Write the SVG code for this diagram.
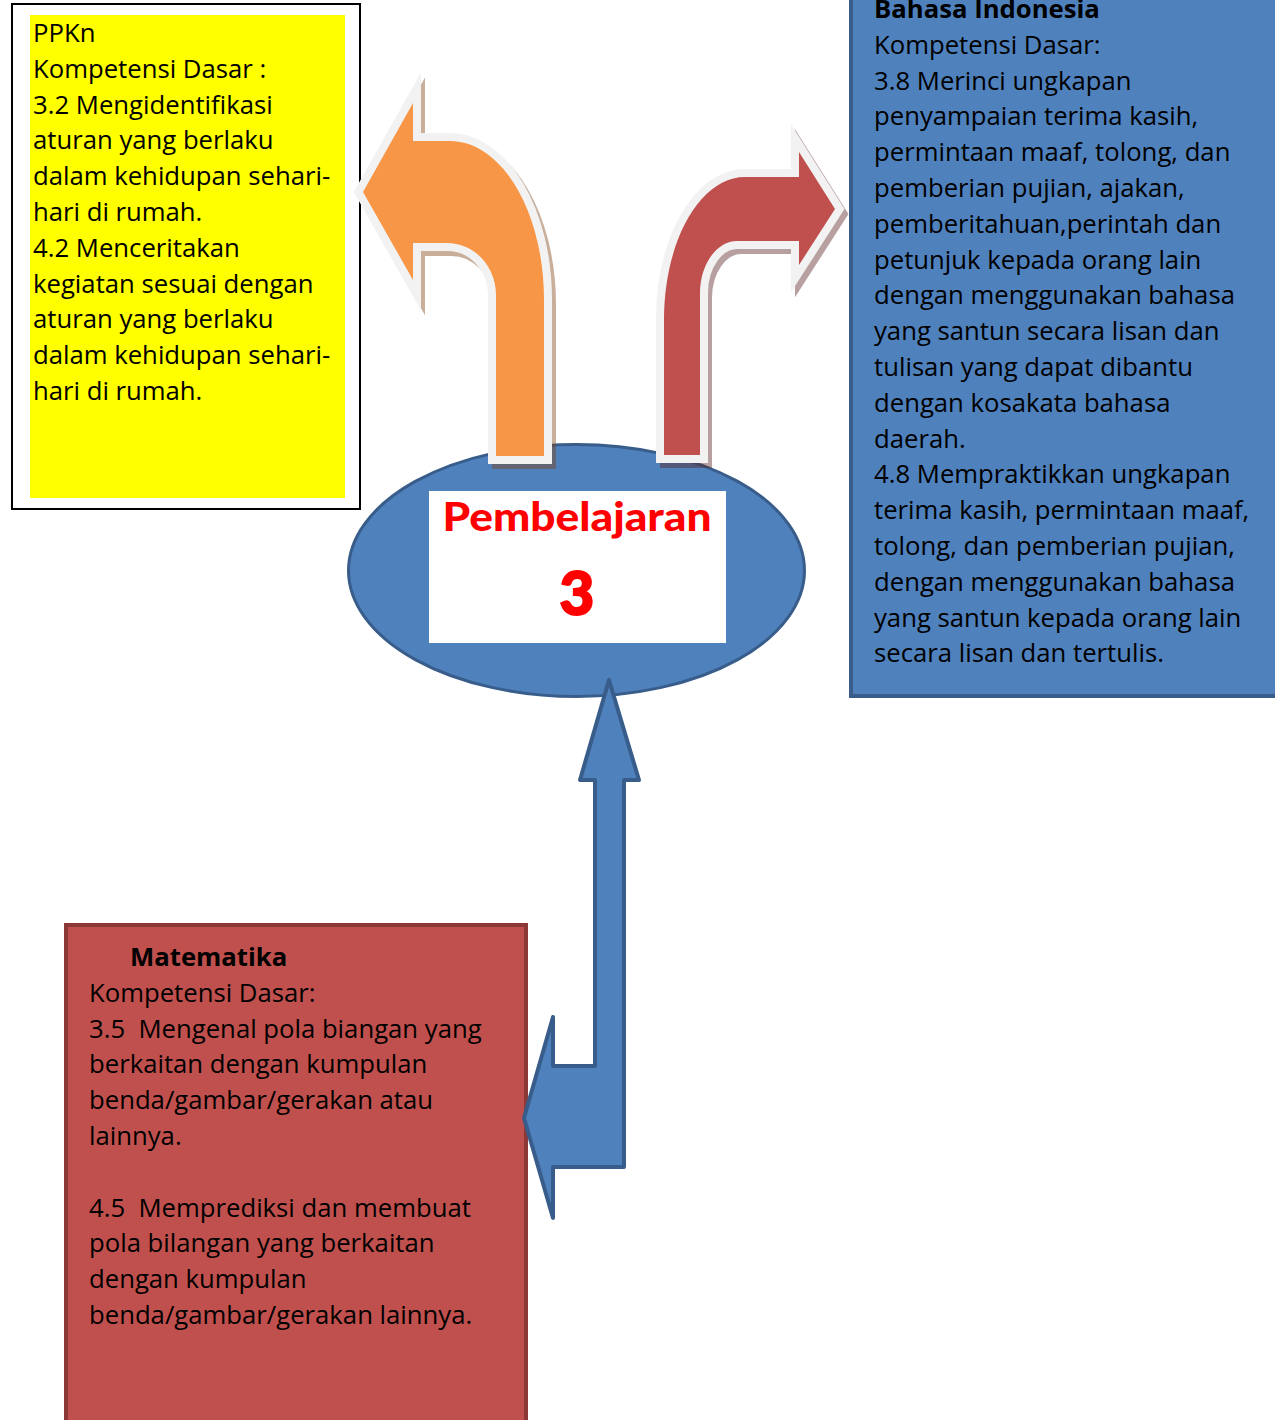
<svg xmlns="http://www.w3.org/2000/svg" width="1275" height="1420" viewBox="0 0 1275 1420">
<style>
.t{font-family:"Open Sans","Noto Sans",sans-serif;font-size:25.7px;fill:#000;white-space:pre}
.b{font-weight:bold}
.title{font-family:Lato,"Open Sans",sans-serif;font-weight:900;fill:#ff0000}
.outline{fill:#f2f2f2;stroke:#f2f2f2;stroke-width:16;stroke-linejoin:miter;stroke-miterlimit:10}
</style>
<rect width="1275" height="1420" fill="#ffffff"/>

<g id="ppkn">
<rect x="12" y="4" width="348" height="505" fill="#ffffff" stroke="#000000" stroke-width="2"/>
<rect x="30" y="15" width="315" height="483" fill="#ffff00"/>
<text class="t" x="33" y="42"><tspan x="33">PPKn</tspan><tspan x="33" dy="35.8">Kompetensi Dasar :</tspan><tspan x="33" dy="35.8">3.2 Mengidentifikasi</tspan><tspan x="33" dy="35.8">aturan yang berlaku</tspan><tspan x="33" dy="35.8">dalam kehidupan sehari-</tspan><tspan x="33" dy="35.8">hari di rumah.</tspan><tspan x="33" dy="35.8">4.2 Menceritakan</tspan><tspan x="33" dy="35.8">kegiatan sesuai dengan</tspan><tspan x="33" dy="35.8">aturan yang berlaku</tspan><tspan x="33" dy="35.8">dalam kehidupan sehari-</tspan><tspan x="33" dy="35.8">hari di rumah.</tspan></text>
</g>

<g id="bahasa">
<rect x="851" y="-10" width="430" height="706" fill="#4f81bd" stroke="#385d8a" stroke-width="4"/>
<text class="t" x="874" y="18"><tspan x="874" class="b">Bahasa Indonesia</tspan><tspan x="874" dy="35.8">Kompetensi Dasar:</tspan><tspan x="874" dy="35.8">3.8 Merinci ungkapan</tspan><tspan x="874" dy="35.8">penyampaian terima kasih,</tspan><tspan x="874" dy="35.8">permintaan maaf, tolong, dan</tspan><tspan x="874" dy="35.8">pemberian pujian, ajakan,</tspan><tspan x="874" dy="35.8">pemberitahuan,perintah dan</tspan><tspan x="874" dy="35.8">petunjuk kepada orang lain</tspan><tspan x="874" dy="35.8">dengan menggunakan bahasa</tspan><tspan x="874" dy="35.8">yang santun secara lisan dan</tspan><tspan x="874" dy="35.8">tulisan yang dapat dibantu</tspan><tspan x="874" dy="35.8">dengan kosakata bahasa</tspan><tspan x="874" dy="35.8">daerah.</tspan><tspan x="874" dy="35.8">4.8 Mempraktikkan ungkapan</tspan><tspan x="874" dy="35.8">terima kasih, permintaan maaf,</tspan><tspan x="874" dy="35.8">tolong, dan pemberian pujian,</tspan><tspan x="874" dy="35.8">dengan menggunakan bahasa</tspan><tspan x="874" dy="35.8">yang santun kepada orang lain</tspan><tspan x="874" dy="35.8">secara lisan dan tertulis.</tspan></text>
</g>

<g id="matematika">
<rect x="66" y="925" width="460" height="520" fill="#c0504d" stroke="#8c3836" stroke-width="4"/>
<text class="t" x="130" y="966"><tspan x="130" class="b">Matematika</tspan><tspan x="89" dy="35.8">Kompetensi Dasar:</tspan><tspan x="89" dy="35.8">3.5  Mengenal pola biangan yang</tspan><tspan x="89" dy="35.8">berkaitan dengan kumpulan</tspan><tspan x="89" dy="35.8">benda/gambar/gerakan atau</tspan><tspan x="89" dy="35.8">lainnya.</tspan><tspan x="89" dy="71.6">4.5  Memprediksi dan membuat</tspan><tspan x="89" dy="35.8">pola bilangan yang berkaitan</tspan><tspan x="89" dy="35.8">dengan kumpulan</tspan><tspan x="89" dy="35.8">benda/gambar/gerakan lainnya.</tspan></text>
</g>

<g id="pembelajaran">
<ellipse cx="576.5" cy="570.5" rx="228" ry="126" fill="#4f81bd" stroke="#385d8a" stroke-width="3"/>
<rect x="429" y="491" width="297" height="152" fill="#ffffff"/>
<text class="title" x="577" y="531" font-size="39" text-anchor="middle" textLength="269" lengthAdjust="spacingAndGlyphs">Pembelajaran</text>
<text class="title" x="577" y="615" font-size="60" text-anchor="middle" stroke="#ff0000" stroke-width="2">3</text>
</g>

<g id="connectors">
<g id="arrow-orange">
<path transform="translate(4,5)" d="M496 456 L496 295 C496 266 474 243 447 243 L413 243 L413 280 L363 192 L413 103 L413 141 L450 141 C502 141 544 212 544 300 L544 456 Z" fill="#7f3f10" stroke="#7f3f10" stroke-width="16" stroke-miterlimit="10" opacity="0.42"/>
<path class="outline" d="M496 456 L496 295 C496 266 474 243 447 243 L413 243 L413 280 L363 192 L413 103 L413 141 L450 141 C502 141 544 212 544 300 L544 456 Z"/>
<path d="M496 456 L496 295 C496 266 474 243 447 243 L413 243 L413 280 L363 192 L413 103 L413 141 L450 141 C502 141 544 212 544 300 L544 456 Z" fill="#f79646"/>
</g>
<g id="arrow-red">
<path transform="translate(4,5)" d="M664 455 L664 320 C664 241 700 177 745 177 L799 177 L799 152 L835 209 L799 265 L799 241 L737 241 C717 241 700 264 700 293 L700 455 Z" fill="#5a2020" stroke="#5a2020" stroke-width="16" stroke-miterlimit="10" opacity="0.42"/>
<path class="outline" d="M664 455 L664 320 C664 241 700 177 745 177 L799 177 L799 152 L835 209 L799 265 L799 241 L737 241 C717 241 700 264 700 293 L700 455 Z"/>
<path d="M664 455 L664 320 C664 241 700 177 745 177 L799 177 L799 152 L835 209 L799 265 L799 241 L737 241 C717 241 700 264 700 293 L700 455 Z" fill="#c0504d"/>
</g>
<path id="arrow-blue" d="M609 680 L639 780 L624 780 L624 1167 L553 1167 L553 1218 L524 1118 L553 1017 L553 1066 L595 1066 L595 780 L580 780 Z" fill="#4f81bd" stroke="#385d8a" stroke-width="4" stroke-linejoin="round"/>
</g>
</svg>
